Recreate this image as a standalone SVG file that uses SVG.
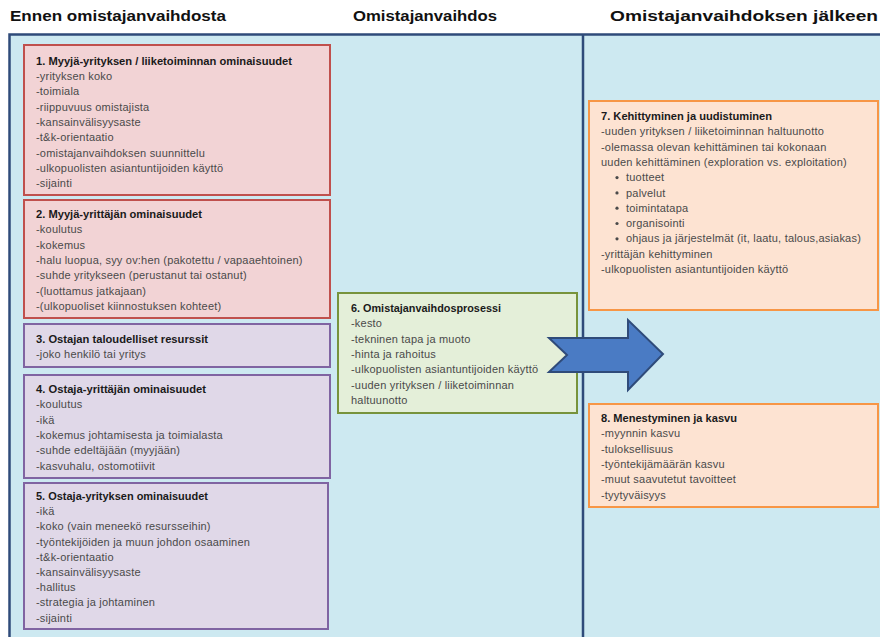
<svg xmlns="http://www.w3.org/2000/svg" width="880" height="637" viewBox="0 0 880 637">
<style>
.hd{font-family:"Liberation Sans",Arial,sans-serif;font-weight:bold;font-size:15px;fill:#111}
.t{font-family:"Liberation Sans",Arial,sans-serif;font-weight:bold;font-size:10.5px;fill:#1a1a1a}
.b{font-family:"Liberation Sans",Arial,sans-serif;font-size:11px;letter-spacing:0.2px;fill:#4a4a4a}
.red{fill:#f2d3d5;stroke:#c0504d;stroke-width:2}
.pur{fill:#e0d8e8;stroke:#8064a2;stroke-width:2}
.grn{fill:#e4efd9;stroke:#77933c;stroke-width:2}
.org{fill:#fde3d2;stroke:#f79646;stroke-width:2}
</style>
<rect width="880" height="637" fill="#ffffff"/>
<g id="headers">
<text class="hd" x="10" y="21" textLength="216" lengthAdjust="spacingAndGlyphs">Ennen omistajanvaihdosta</text>
<text class="hd" x="353" y="21" textLength="144" lengthAdjust="spacingAndGlyphs">Omistajanvaihdos</text>
<text class="hd" x="610" y="21" textLength="268" lengthAdjust="spacingAndGlyphs">Omistajanvaihdoksen jälkeen</text>
</g>
<g id="panel">
<rect x="9.5" y="34.5" width="880" height="620" fill="#cde9f1" stroke="#2f4b7a" stroke-width="2.5"/>
<line x1="583" y1="34" x2="583" y2="637" stroke="#2f4b7a" stroke-width="2.5"/>
</g>
<g id="n1">
<rect class="red" x="24" y="45" width="306" height="150"/>
<text class="t" x="36" y="65" textLength="256" lengthAdjust="spacingAndGlyphs">1. Myyjä-yrityksen / liiketoiminnan ominaisuudet</text>
<text class="b" x="36" y="80">-yrityksen koko</text>
<text class="b" x="36" y="95.3">-toimiala</text>
<text class="b" x="36" y="110.6">-riippuvuus omistajista</text>
<text class="b" x="36" y="125.9">-kansainvälisyysaste</text>
<text class="b" x="36" y="141.2">-t&amp;k-orientaatio</text>
<text class="b" x="36" y="156.5">-omistajanvaihdoksen suunnittelu</text>
<text class="b" x="36" y="171.8">-ulkopuolisten asiantuntijoiden käyttö</text>
<text class="b" x="36" y="187.1">-sijainti</text>
</g>
<g id="n2">
<rect class="red" x="24" y="200" width="306" height="118"/>
<text class="t" x="36" y="218" textLength="166" lengthAdjust="spacingAndGlyphs">2. Myyjä-yrittäjän ominaisuudet</text>
<text class="b" x="36" y="233.3">-koulutus</text>
<text class="b" x="36" y="248.6">-kokemus</text>
<text class="b" x="36" y="263.9">-halu luopua, syy ov:hen (pakotettu / vapaaehtoinen)</text>
<text class="b" x="36" y="279.2">-suhde yritykseen (perustanut tai ostanut)</text>
<text class="b" x="36" y="294.5">-(luottamus jatkajaan)</text>
<text class="b" x="36" y="309.8">-(ulkopuoliset kiinnostuksen kohteet)</text>
</g>
<g id="n3">
<rect class="pur" x="24" y="324" width="306" height="43"/>
<text class="t" x="36" y="343" textLength="172" lengthAdjust="spacingAndGlyphs">3. Ostajan taloudelliset resurssit</text>
<text class="b" x="36" y="358.3">-joko henkilö tai yritys</text>
</g>
<g id="n4">
<rect class="pur" x="24" y="375" width="306" height="103"/>
<text class="t" x="36" y="393" textLength="170" lengthAdjust="spacingAndGlyphs">4. Ostaja-yrittäjän ominaisuudet</text>
<text class="b" x="36" y="408.3">-koulutus</text>
<text class="b" x="36" y="423.6">-ikä</text>
<text class="b" x="36" y="438.9">-kokemus johtamisesta ja  toimialasta</text>
<text class="b" x="36" y="454.2">-suhde edeltäjään (myyjään)</text>
<text class="b" x="36" y="469.5">-kasvuhalu, ostomotiivit</text>
</g>
<g id="n5">
<rect class="pur" x="24" y="483" width="304" height="146"/>
<text class="t" x="36" y="500" textLength="172" lengthAdjust="spacingAndGlyphs">5. Ostaja-yrityksen ominaisuudet</text>
<text class="b" x="36" y="515.2">-ikä</text>
<text class="b" x="36" y="530.4">-koko (vain meneekö resursseihin)</text>
<text class="b" x="36" y="545.6">-työntekijöiden ja muun johdon osaaminen</text>
<text class="b" x="36" y="560.8">-t&amp;k-orientaatio</text>
<text class="b" x="36" y="576">-kansainvälisyysaste</text>
<text class="b" x="36" y="591.2">-hallitus</text>
<text class="b" x="36" y="606.4">-strategia ja johtaminen</text>
<text class="b" x="36" y="621.6">-sijainti</text>
</g>
<g id="n6">
<rect class="grn" x="338" y="293" width="239" height="120"/>
<text class="t" x="351" y="312" textLength="150" lengthAdjust="spacingAndGlyphs">6. Omistajanvaihdosprosessi</text>
<text class="b" x="351" y="327.3">-kesto</text>
<text class="b" x="351" y="342.6">-tekninen tapa ja muoto</text>
<text class="b" x="351" y="357.9">-hinta ja rahoitus</text>
<text class="b" x="351" y="373.2">-ulkopuolisten asiantuntijoiden käyttö</text>
<text class="b" x="351" y="388.5">-uuden yrityksen / liiketoiminnan</text>
<text class="b" x="351" y="403.8">haltuunotto</text>
</g>
<g id="n7">
<rect class="org" x="589" y="101" width="289" height="209"/>
<text class="t" x="601" y="120" textLength="171" lengthAdjust="spacingAndGlyphs">7. Kehittyminen ja uudistuminen</text>
<text class="b" x="601" y="135.3">-uuden yrityksen / liiketoiminnan haltuunotto</text>
<text class="b" x="601" y="150.6">-olemassa olevan kehittäminen tai kokonaan</text>
<text class="b" x="601" y="165.9">uuden kehittäminen (exploration vs. exploitation)</text>
<g fill="#4a4a4a">
<circle cx="617" cy="177.6" r="1.6"/><circle cx="617" cy="192.9" r="1.6"/><circle cx="617" cy="208.2" r="1.6"/><circle cx="617" cy="223.5" r="1.6"/><circle cx="617" cy="238.8" r="1.6"/>
</g>
<text class="b" x="626" y="181.2">tuotteet</text>
<text class="b" x="626" y="196.5">palvelut</text>
<text class="b" x="626" y="211.8">toimintatapa</text>
<text class="b" x="626" y="227.1">organisointi</text>
<text class="b" x="626" y="242.4">ohjaus ja järjestelmät (it, laatu, talous,asiakas)</text>
<text class="b" x="601" y="257.7">-yrittäjän kehittyminen</text>
<text class="b" x="601" y="273">-ulkopuolisten asiantuntijoiden  käyttö</text>
</g>
<g id="n8">
<rect class="org" x="589" y="404" width="289" height="103"/>
<text class="t" x="601" y="422" textLength="136" lengthAdjust="spacingAndGlyphs">8. Menestyminen ja kasvu</text>
<text class="b" x="601" y="437.3">-myynnin kasvu</text>
<text class="b" x="601" y="452.6">-tuloksellisuus</text>
<text class="b" x="601" y="467.9">-työntekijämäärän kasvu</text>
<text class="b" x="601" y="483.2">-muut saavutetut tavoitteet</text>
<text class="b" x="601" y="498.5">-tyytyväisyys</text>
</g>
<g id="connectors">
<polygon points="549,338 628,338 628,320 663,354 628,390 628,372 549,372 567,355" fill="#4a7bc4" stroke="#2f4b7a" stroke-width="2" stroke-linejoin="miter"/>
</g>
</svg>
